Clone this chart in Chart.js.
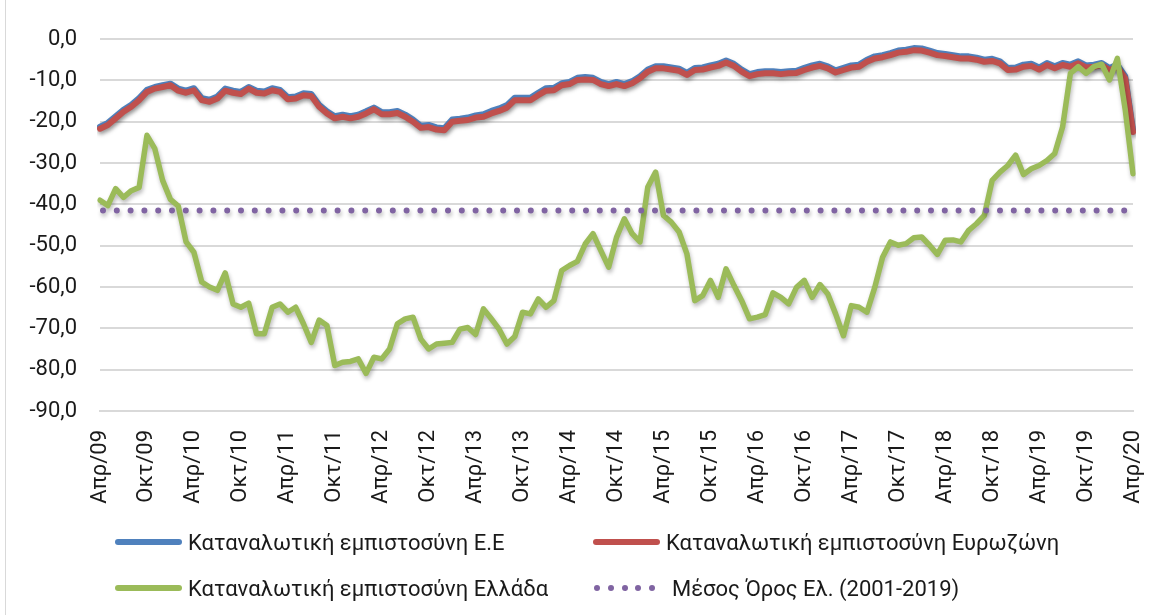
<!DOCTYPE html>
<html lang="el">
<head>
<meta charset="utf-8">
<script src="https://cdn.jsdelivr.net/npm/chart.js@4.4.1/dist/chart.umd.min.js"></script>
<style>
  html, body { margin: 0; padding: 0; background: #fff; }
  #wrap { position: relative; width: 1153px; height: 615px; overflow: hidden; }
  #confChart { position: absolute; left: 0; top: 0; }
  #frame { position: absolute; left: 5px; top: 0; width: 1px; height: 615px; background: #d9d9d9; }
  .lg-item { position: absolute; height: 26px; display: flex; align-items: center;
             font-family: Roboto, "Noto Sans", sans-serif; font-size: 22px; color: #1a1a1a; white-space: nowrap; }
  .lg-line { display: inline-block; width: 67px; height: 6px; border-radius: 3px; margin-right: 6px; }
  .lg-dots { display: inline-flex; width: 61px; margin-right: 17px; gap: 7.8px; }
  .lg-dots span { width: 6px; height: 6px; border-radius: 50%; display: inline-block; flex: none; }
</style>
</head>
<body>
<div id="wrap">
  <canvas id="confChart" width="1153" height="615"></canvas>
  <div id="frame"></div>
  <div id="legend"></div>
</div>
<script>
// months (Apr 2009 - Apr 2020)
const monthNames = ['Ιαν', 'Φεβ', 'Μαρ', 'Απρ', 'Μάι', 'Ιουν', 'Ιουλ', 'Αυγ', 'Σεπ', 'Οκτ', 'Νοε', 'Δεκ'];
const startYear = 2009, startMonth = 3, monthCount = 133;

const euConf = [
  -21.2, -20.3, -18.7, -17.1, -15.9, -14.3, -12.3, -11.6, -11.2, -10.8,
  -12.0, -12.5, -11.9, -14.3, -14.7, -13.9, -12.0, -12.5, -12.8, -11.6,
  -12.5, -12.7, -11.9, -12.3, -14.1, -13.9, -13.1, -13.3, -15.9, -17.5,
  -18.7, -18.3, -18.7, -18.3, -17.5, -16.6, -17.7, -17.7, -17.4, -18.3,
  -19.5, -21.0, -20.8, -21.4, -21.6, -19.5, -19.3, -19.0, -18.5, -18.2,
  -17.4, -16.8, -16.0, -14.2, -14.2, -14.2, -13.0, -11.9, -11.8, -10.7,
  -10.4, -9.4, -9.2, -9.4, -10.4, -10.9, -10.4, -10.9, -10.2, -9.0,
  -7.4, -6.6, -6.6, -6.9, -7.2, -8.2, -7.0, -6.9, -6.4, -6.0,
  -5.2, -6.0, -7.4, -8.5, -8.0, -7.8, -7.8, -8.0, -7.8, -7.7,
  -7.0, -6.4, -6.0, -6.6, -7.6, -7.0, -6.4, -6.2, -5.0, -4.2,
  -3.9, -3.4, -2.8, -2.6, -2.2, -2.3, -2.8, -3.4, -3.6, -3.9,
  -4.2, -4.2, -4.5, -5.0, -4.8, -5.4, -7.0, -6.9, -6.2, -6.0,
  -6.9, -5.8, -6.6, -5.8, -6.2, -5.4, -6.4, -6.2, -5.8, -7.0,
  -6.2, -9.0, -22.0
];

const euroAreaConf = [
  -21.7, -20.8, -19.2, -17.6, -16.4, -14.8, -12.8, -12.0, -11.6, -11.2,
  -12.5, -13.0, -12.4, -14.8, -15.2, -14.4, -12.5, -13.0, -13.3, -12.0,
  -13.0, -13.2, -12.4, -12.8, -14.6, -14.4, -13.6, -13.8, -16.4, -18.0,
  -19.2, -18.8, -19.2, -18.8, -18.0, -17.0, -18.2, -18.2, -17.9, -18.8,
  -20.0, -21.5, -21.3, -21.9, -22.1, -20.0, -19.8, -19.6, -19.0, -18.8,
  -18.0, -17.4, -16.6, -14.8, -14.8, -14.8, -13.6, -12.5, -12.4, -11.2,
  -10.9, -9.9, -9.8, -9.9, -10.9, -11.4, -10.9, -11.4, -10.7, -9.5,
  -7.9, -7.1, -7.1, -7.4, -7.7, -8.7, -7.5, -7.4, -6.9, -6.5,
  -5.7, -6.5, -7.9, -9.0, -8.5, -8.3, -8.3, -8.5, -8.3, -8.2,
  -7.5, -6.9, -6.5, -7.1, -8.1, -7.5, -6.9, -6.7, -5.5, -4.7,
  -4.4, -3.9, -3.3, -3.1, -2.7, -2.8, -3.3, -3.9, -4.1, -4.4,
  -4.7, -4.7, -5.0, -5.5, -5.3, -5.9, -7.5, -7.4, -6.7, -6.5,
  -7.4, -6.3, -7.1, -6.3, -6.7, -5.9, -6.9, -6.7, -6.3, -7.5,
  -6.7, -9.5, -22.5
];

const greeceConf = [
  -39.0, -40.3, -36.2, -38.3, -36.7, -35.9, -23.3, -26.5, -34.2, -38.8,
  -40.4, -49.1, -51.6, -58.8, -60.0, -60.8, -56.6, -64.1, -64.9, -63.9,
  -71.3, -71.3, -64.9, -64.1, -66.1, -64.9, -68.9, -73.4, -68.0, -69.3,
  -79.0, -78.2, -78.0, -77.4, -80.9, -77.0, -77.4, -75.0, -68.9, -67.7,
  -67.3, -72.6, -75.0, -73.8, -73.6, -73.4, -70.2, -69.8, -71.5, -65.3,
  -67.7, -70.2, -73.8, -72.0, -66.1, -66.5, -62.9, -64.9, -63.3, -56.0,
  -54.8, -53.8, -49.6, -47.1, -51.2, -55.2, -48.0, -43.5, -47.1, -49.1,
  -35.8, -32.2, -42.7, -44.3, -46.7, -52.0, -63.3, -62.1, -58.4, -62.5,
  -55.6, -59.6, -63.3, -67.7, -67.3, -66.7, -61.4, -62.5, -64.1, -60.1,
  -58.4, -62.5, -59.4, -61.7, -66.5, -71.8, -64.5, -64.9, -66.1, -60.1,
  -52.8, -49.1, -49.9, -49.5, -48.1, -47.9, -49.9, -52.1, -48.7, -48.6,
  -49.1, -46.3, -44.7, -42.7, -34.2, -32.2, -30.6, -28.1, -32.8, -31.4,
  -30.6, -29.4, -27.7, -21.3, -8.3, -6.7, -8.3, -6.7, -6.1, -9.9,
  -4.7, -17.0, -32.6
];

// average of Greece 2001-2019
const greeceAverage = -41.5;

const seriesNames = [
  'Καταναλωτική εμπιστοσύνη Ε.Ε',
  'Καταναλωτική εμπιστοσύνη Ευρωζώνη',
  'Καταναλωτική εμπιστοσύνη Ελλάδα',
  'Μέσος Όρος Ελ. (2001-2019)'
];

const yTicks = { min: -90, max: 0, step: 10 };

const labels = [];
for (let i = 0; i < monthCount; i++) {
  const m = (startMonth + i) % 12;
  const y = startYear + Math.floor((startMonth + i) / 12);
  labels.push(monthNames[m] + '/' + String(y % 100).padStart(2, '0'));
}

const FONT = 'Roboto, "Noto Sans", sans-serif';

// soft drop shadow under every line, like the Excel original
const shadowPlugin = {
  id: 'lineShadow',
  beforeDatasetDraw(chart) {
    const c = chart.ctx;
    c.save();
    c.shadowColor = 'rgba(0,0,0,0.28)';
    c.shadowBlur = 4;
    c.shadowOffsetX = 1;
    c.shadowOffsetY = 3;
  },
  afterDatasetDraw(chart) {
    chart.ctx.restore();
  }
};

const chart = new Chart(document.getElementById('confChart'), {
  type: 'line',
  data: {
    labels: labels,
    datasets: [
      { label: seriesNames[0], data: euConf, borderColor: '#4f81bd', borderWidth: 6, order: 4 },
      { label: seriesNames[1], data: euroAreaConf, borderColor: '#c0504d', borderWidth: 6, order: 3 },
      { label: seriesNames[2], data: greeceConf, borderColor: '#9bbb59', borderWidth: 5.5, order: 2 },
      { label: seriesNames[3], data: labels.map(() => greeceAverage), borderColor: '#8064a2', borderWidth: 6,
        borderDash: [0, 13.8], borderCapStyle: 'round', borderDashOffset: -3, order: 1, dotted: true }
    ]
  },
  options: {
    responsive: false,
    animation: false,
    elements: {
      point: { radius: 0 },
      line: { tension: 0, borderJoinStyle: 'round', borderCapStyle: 'round', fill: false }
    },
    layout: { padding: { top: 39, right: 20, left: 0, bottom: 0 } },
    plugins: { legend: { display: false }, tooltip: { enabled: false } },
    scales: {
      x: {
        grid: { display: false, drawTicks: false },
        border: { color: '#d9d9d9', width: 2 },
        ticks: {
          autoSkip: false, maxRotation: 90, minRotation: 90, padding: 19,
          color: '#1a1a1a', font: { family: FONT, size: 22 },
          callback: (v, i) => (i % 6 === 0 ? labels[i] : '')
        },
        afterFit: s => { s.height = 204; s.paddingLeft = 0; s.paddingRight = 0; }
      },
      y: {
        min: yTicks.min, max: yTicks.max,
        grid: { color: '#d9d9d9', lineWidth: 2, drawTicks: false },
        border: { display: false },
        ticks: {
          stepSize: yTicks.step, padding: 23,
          color: '#1a1a1a', font: { family: FONT, size: 22 },
          callback: v => v.toFixed(1).replace('.', ',')
        },
        afterFit: s => { s.width = 100; }
      }
    }
  },
  plugins: [shadowPlugin]
});

// legend in two aligned columns, built from the datasets
const legendPos = [[115, 529], [593, 529], [115, 575], [594, 575]];
const legendEl = document.getElementById('legend');
chart.data.datasets.forEach((ds, i) => {
  const item = document.createElement('div');
  item.className = 'lg-item';
  item.style.left = legendPos[i][0] + 'px';
  item.style.top = legendPos[i][1] + 'px';
  let swatch;
  if (ds.dotted) {
    swatch = document.createElement('span');
    swatch.className = 'lg-dots';
    for (let k = 0; k < 5; k++) {
      const d = document.createElement('span');
      d.style.background = ds.borderColor;
      swatch.appendChild(d);
    }
  } else {
    swatch = document.createElement('span');
    swatch.className = 'lg-line';
    swatch.style.background = ds.borderColor;
  }
  item.appendChild(swatch);
  item.appendChild(document.createTextNode(ds.label));
  legendEl.appendChild(item);
});
</script>
</body>
</html>
